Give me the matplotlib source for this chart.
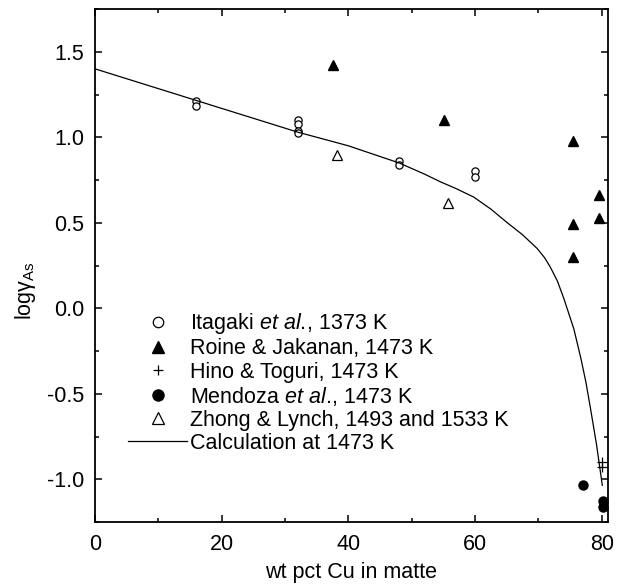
import numpy as np
import matplotlib.pyplot as plt
from matplotlib.ticker import MultipleLocator

plt.rcParams['font.family'] = ['Liberation Sans', 'DejaVu Sans']
plt.rcParams['mathtext.fontset'] = 'custom'
plt.rcParams['mathtext.rm'] = 'Liberation Sans'
plt.rcParams['mathtext.it'] = 'Liberation Sans:italic'
plt.rcParams['axes.unicode_minus'] = False
plt.rcParams['font.size'] = 15.5

# Itagaki et al., 1373 K
ita_x = [16, 16, 32, 32, 32, 32, 48, 48, 60, 60]
ita_y = [1.21, 1.18, 1.10, 1.08, 1.035, 1.025, 0.86, 0.84, 0.80, 0.765]
# Roine & Jakanan, 1473 K
roi_x = [37.6, 55.1, 75.4, 75.4, 75.4, 79.6, 79.6]
roi_y = [1.42, 1.10, 0.98, 0.49, 0.30, 0.66, 0.53]
# Hino & Toguri, 1473 K
hin_x = [80, 80]
hin_y = [-0.90, -0.93]
# Mendoza et al., 1473 K
men_x = [77.1, 80.2, 80.2]
men_y = [-1.035, -1.13, -1.16]
# Zhong & Lynch, 1493 and 1533 K
zho_x = [38.2, 55.8]
zho_y = [0.895, 0.615]
# calculated curve at 1473 K
calc_x = [0, 16, 32, 40, 48, 52, 54.5, 57, 59.8, 62.5, 65.1, 67.5, 69.8, 71.0, 71.9,
          73.0, 74.0, 75.6, 76.7, 77.5, 78.3, 79.2, 80.1]
calc_y = [1.40, 1.215, 1.03, 0.95, 0.85, 0.785, 0.74, 0.70, 0.65, 0.58, 0.50,
          0.43, 0.35, 0.295, 0.24, 0.16, 0.06, -0.12, -0.29, -0.43, -0.60, -0.80, -1.035]

fig = plt.figure(figsize=(6.17, 5.88), dpi=100)
ax = fig.add_axes([95/617, 66/588, 513/617, 513/588])

ax.plot(ita_x, ita_y, 'o', mfc='white', mec='black', ms=5.2, mew=0.9,
        label=r'Itagaki $\it{et\ al.}\!$, 1373 K')
ax.plot(roi_x, roi_y, '^', color='black', ms=7, label='Roine & Jakanan, 1473 K')
ax.plot(hin_x, hin_y, '+', color='black', ms=7, mew=0.9, label='Hino & Toguri, 1473 K')
ax.plot(men_x, men_y, 'o', color='black', ms=6.5, label=r'Mendoza $\it{et\ al.}\!$, 1473 K')
ax.plot(zho_x, zho_y, '^', mfc='white', mec='black', ms=7, mew=0.9,
        label='Zhong & Lynch, 1493 and 1533 K')
ax.plot(calc_x, calc_y, '-', color='black', lw=0.9, label='Calculation at 1473 K')

ax.set_xlim(0, 81)
ax.set_ylim(-1.25, 1.75)
ax.xaxis.set_major_locator(MultipleLocator(20))
ax.xaxis.set_minor_locator(MultipleLocator(10))
ax.yaxis.set_major_locator(MultipleLocator(0.5))
ax.yaxis.set_minor_locator(MultipleLocator(0.25))
ax.tick_params(which='both', direction='in', top=True, right=True, width=1.1)
ax.tick_params(which='major', length=5)
ax.tick_params(axis='x', which='major', pad=9)
ax.tick_params(axis='y', which='major', pad=8)
ax.tick_params(which='minor', length=3)
for s in ax.spines.values():
    s.set_linewidth(1.3)

ax.set_xlabel('wt pct Cu in matte', labelpad=5)
ax.set_ylabel(r'log$\mathrm{γ_{As}}$')
ax.yaxis.set_label_coords(-0.112, 0.45)

leg = ax.legend(loc='lower left', bbox_to_anchor=(33/513, 68/513), frameon=False,
                borderpad=0, borderaxespad=0, handlelength=2.75, handletextpad=0.15,
                labelspacing=0.1, numpoints=1)
leg.legend_handles[0].set_markersize(7.5)
leg.legend_handles[1].set_markersize(8)
leg.legend_handles[3].set_markersize(8)
leg.legend_handles[4].set_markersize(8)

fig.savefig('out.png', dpi=100)
